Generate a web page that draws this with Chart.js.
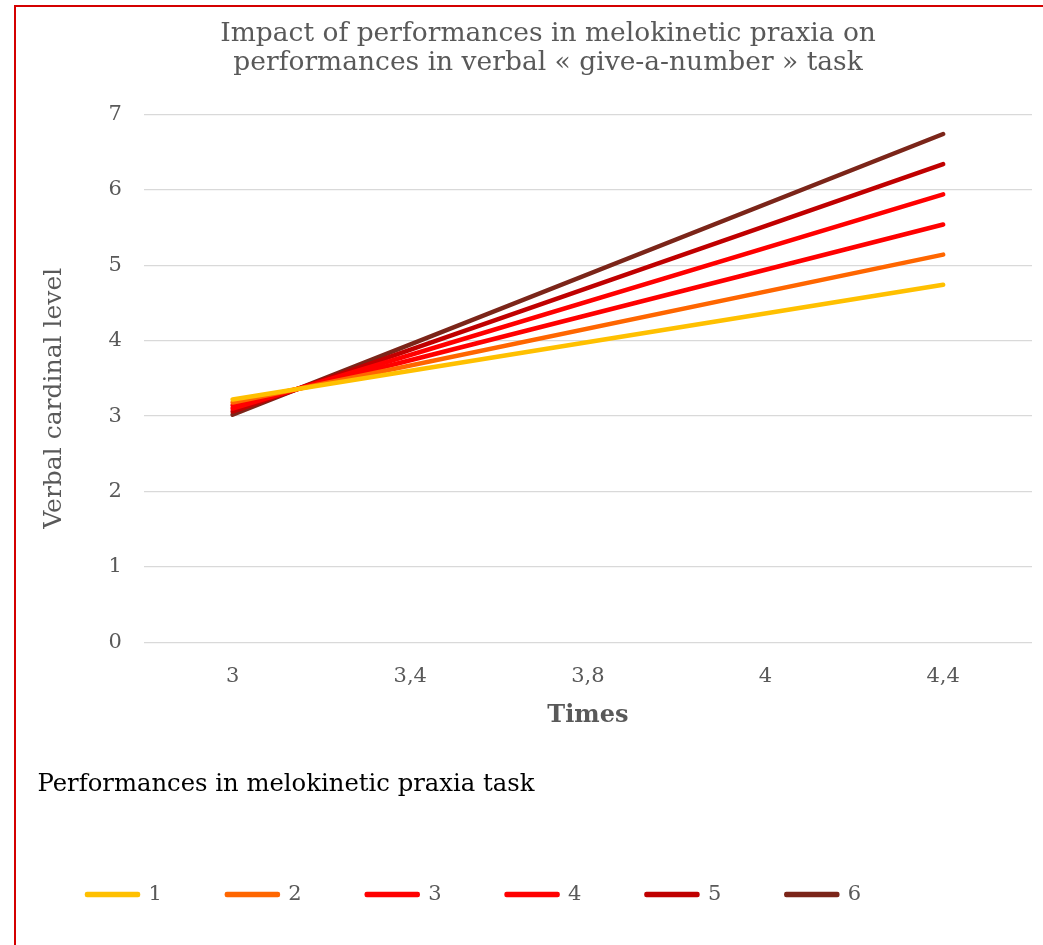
<!DOCTYPE html>
<html>
<head>
<meta charset="utf-8">
<script src="https://cdn.jsdelivr.net/npm/chart.js@4"></script>
<style>
  html, body { margin: 0; padding: 0; background: #fff; }
  #frame { position: absolute; left: 14px; top: 5px; width: 1100px; height: 1000px;
           border-left: 2px solid #d40000; border-top: 2px solid #d40000; }
  #wrap { position: absolute; left: 0; top: 0; width: 1043px; height: 945px; }
</style>
</head>
<body>
<div id="frame"></div>
<div id="wrap"><canvas id="chart"></canvas></div>
<script>
// x categories (times)
const times = ['3', '3,4', '3,8', '4', '4,4'];

// verbal cardinal level, one series per melokinetic praxia score
const series1 = [3.22, null, null, null, 4.74];
const series2 = [3.18, null, null, null, 5.14];
const series3 = [3.14, null, null, null, 5.54];
const series4 = [3.10, null, null, null, 5.94];
const series5 = [3.06, null, null, null, 6.34];
const series6 = [3.02, null, null, null, 6.74];

const seriesNames = ['1', '2', '3', '4', '5', '6'];
const colors = ['#FFC000', '#FF6600', '#FF0000', '#FF0000', '#C00000', '#7B2519'];
const allSeries = [series1, series2, series3, series4, series5, series6];

const grey = '#595959';
const serif = '"DejaVu Serif", serif';

const datasets = allSeries.map((values, i) => ({
  label: seriesNames[i],
  data: values,
  borderColor: colors[i],
  backgroundColor: colors[i],
  borderWidth: 4.5,
  borderCapStyle: 'round',
  borderJoinStyle: 'round',
  pointRadius: 0,
  spanGaps: true,
  tension: 0
}));

const ctx = document.getElementById('chart').getContext('2d');
const chart = new Chart(ctx, {
  type: 'line',
  data: { labels: times, datasets: datasets },
  options: {
    responsive: true,
    maintainAspectRatio: false,
    animation: false,
    layout: { padding: { left: 22, right: 11, top: 10, bottom: 30 } },
    plugins: {
      title: {
        display: true,
        // leading spaces push the centred title a bit to the right, as in the original
        text: ['     Impact of performances in melokinetic praxia on',
               '     performances in verbal « give-a-number » task'],
        color: grey,
        font: { family: serif, size: 26.5, weight: 'normal', lineHeight: 1.12 },
        padding: { top: 9, bottom: 36 }
      },
      legend: {
        position: 'bottom',
        align: 'start',
        title: {
          display: true,
          text: '  Performances in melokinetic praxia task',
          color: '#000',
          position: 'start',
          font: { family: serif, size: 24.3 },
          padding: { top: 0, bottom: 17.5 }
        },
        labels: {
          color: grey,
          font: { family: serif, size: 21 },
          boxWidth: 51,
          boxHeight: 1,
          padding: 65
        }
      },
      tooltip: { enabled: false }
    },
    scales: {
      x: {
        offset: true,
        grid: { display: false, drawTicks: false },
        border: { display: false },
        ticks: { color: grey, font: { family: serif, size: 21 }, padding: 22 },
        title: {
          display: true,
          text: 'Times',
          color: grey,
          font: { family: serif, size: 24, weight: 'bold' },
          padding: { top: -10, bottom: 42 }
        }
      },
      y: {
        min: 0,
        max: 7,
        ticks: { stepSize: 1, color: grey, font: { family: serif, size: 21 }, padding: 22 },
        grid: { color: '#D9D9D9', lineWidth: 1.3, drawTicks: false },
        border: { display: false },
        title: {
          display: true,
          text: 'Verbal cardinal level     ',
          color: grey,
          font: { family: serif, size: 25 },
          padding: { top: 17, bottom: 17.4 }
        }
      }
    }
  }
});
</script>
</body>
</html>
